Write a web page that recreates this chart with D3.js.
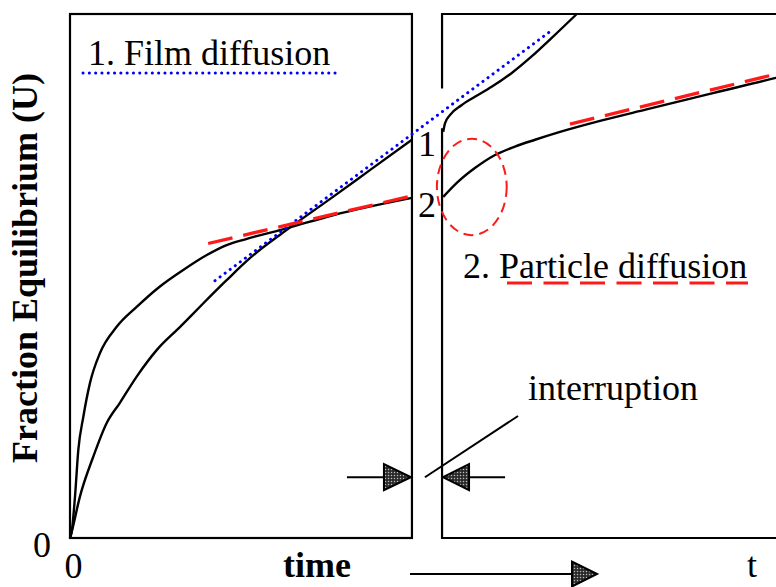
<!DOCTYPE html>
<html>
<head>
<meta charset="utf-8">
<script src="https://cdn.jsdelivr.net/npm/d3@7"></script>
<style>
  body { margin: 0; background: #fff; }
  text { font-family: 'Liberation Serif', 'Times New Roman', serif; }
</style>
</head>
<body>
<div id="chart"></div>
<script>
// [time, U]. time is one continuous axis, the gap 10..10.88 is the interruption
const curve1Before = [[0, 0], [0.05, 0.012], [0.29, 0.079], [0.68, 0.155], [1.07, 0.219], [1.46, 0.258],
  [1.95, 0.308], [2.54, 0.359], [3.22, 0.403], [3.9, 0.448], [4.58, 0.492], [5.26, 0.534],
  [6.34, 0.588], [7.69, 0.651], [8.77, 0.702], [10, 0.76]];
const curve1After = [[10.915, 0.775], [10.965, 0.791], [11.11, 0.807], [11.45, 0.826], [11.84, 0.842],
  [12.33, 0.861], [12.91, 0.887], [13.5, 0.919], [14.08, 0.954], [14.82, 1.0]];
const curve2Before = [[0, 0], [0.05, 0.012], [0.146, 0.079], [0.243, 0.168], [0.389, 0.231], [0.585, 0.296],
  [0.877, 0.353], [1.365, 0.403], [1.95, 0.441], [2.63, 0.48], [3.3, 0.511], [4.0, 0.54],
  [4.58, 0.559], [5.17, 0.571], [6.34, 0.591], [7.69, 0.616], [10, 0.649]];
const curve2After = [[10.915, 0.651], [11.35, 0.68], [11.84, 0.706], [12.43, 0.731], [13.01, 0.747],
  [13.6, 0.76], [14.33, 0.775], [15.5, 0.796], [16.86, 0.818], [18.8, 0.849], [20.64, 0.878], [20.88, 0.882]];

// tangent lines
const filmTangent = [[4.24, 0.491], [14.13, 0.971]];
const particleTangentBefore = [[4.04, 0.562], [10, 0.653]];
const particleTangentAfter = [[14.62, 0.79], [20.88, 0.889]];

const panels = [[0, 10], [10.88, 20.88]];
const interruption = [10, 10.88];
const arrowLevel = 0.116;
const transitionZone = [11.75, 0.67, 1.02, 0.092]; // centre t, centre U, half-width, half-height
const xTicks = [0];
const yTicks = [0];

const width = 776;
const height = 587;

const svg = d3.select('#chart').append('svg')
  .attr('width', width)
  .attr('height', height);

const x = d3.scaleLinear().domain([0, 20.88]).range([70, 784]);
const y = d3.scaleLinear().domain([0, 1]).range([538, 14]);

// stippled fill for the arrow heads
const pat = svg.append('defs').append('pattern')
  .attr('id', 'stip').attr('width', 3).attr('height', 3)
  .attr('patternUnits', 'userSpaceOnUse');
pat.append('rect').attr('width', 3).attr('height', 3).attr('fill', '#2a2a2a');
pat.append('circle').attr('cx', 1.5).attr('cy', 1.5).attr('r', 0.75).attr('fill', '#bbb');

// panel frames
svg.append('rect')
  .attr('x', x(panels[0][0])).attr('y', y(1))
  .attr('width', x(panels[0][1]) - x(panels[0][0]))
  .attr('height', y(0) - y(1))
  .attr('fill', 'none').attr('stroke', '#000').attr('stroke-width', 2.2);

const rx0 = x(panels[1][0]);
const rx1 = x(panels[1][1]);
const frame = svg.append('g').attr('stroke', '#000').attr('stroke-width', 2.2).attr('fill', 'none');
frame.append('path').attr('d', `M${rx1},${y(1)}H${rx0}V${y(0.858)}`);
frame.append('path').attr('d', `M${rx0},${y(0.782)}V${y(0)}H${rx1}V${y(1)}`);

// axes: only the zero labels
const yAxis = d3.axisLeft(y).tickValues(yTicks).tickFormat(d3.format('d'))
  .tickSize(0).tickPadding(19);
const yAxisGroup = svg.append('g')
  .attr('transform', `translate(${x(0)},0)`)
  .call(yAxis);
yAxisGroup.select('.domain').remove();
yAxisGroup.selectAll('text')
  .attr('dy', '0.5em')
  .style('font-size', '36px')
  .style('font-family', "'Liberation Serif', serif")
  .attr('fill', '#000');

const xAxis = d3.axisBottom(x).tickValues(xTicks).tickFormat(d3.format('d'))
  .tickSize(0).tickPadding(14);
const xAxisGroup = svg.append('g')
  .attr('transform', `translate(0,${y(0)})`)
  .call(xAxis);
xAxisGroup.select('.domain').remove();
xAxisGroup.selectAll('text')
  .attr('dx', 3)
  .style('font-size', '36px')
  .style('font-family', "'Liberation Serif', serif")
  .attr('fill', '#000');

// curves
const line = d3.line()
  .x((d) => x(d[0]))
  .y((d) => y(d[1]))
  .curve(d3.curveMonotoneX);

const clip = svg.append('clipPath').attr('id', 'plotclip');
clip.append('rect').attr('x', 0).attr('y', y(1) - 1).attr('width', width).attr('height', y(0) - y(1) + 2);

const curves = svg.append('g').attr('clip-path', 'url(#plotclip)');
[curve1Before, curve1After, curve2Before, curve2After].forEach((c) => {
  curves.append('path')
    .datum(c)
    .attr('d', line)
    .attr('fill', 'none')
    .attr('stroke', '#000')
    .attr('stroke-width', 2.4);
});

// tangents
const straight = d3.line().x((d) => x(d[0])).y((d) => y(d[1]));
svg.append('path')
  .datum(filmTangent)
  .attr('d', straight)
  .attr('fill', 'none')
  .attr('stroke', '#0000ff')
  .attr('stroke-width', 3)
  .attr('stroke-linecap', 'round')
  .attr('stroke-dasharray', '0.1 6.2');

[particleTangentBefore, particleTangentAfter].forEach((c) => {
  svg.append('path')
    .datum(c)
    .attr('d', straight)
    .attr('fill', 'none')
    .attr('stroke', '#ff1a1a')
    .attr('stroke-width', 3.3)
    .attr('stroke-dasharray', '25 11');
});

// dashed ellipse around the restart of curve 2
svg.append('ellipse')
  .attr('cx', x(transitionZone[0]))
  .attr('cy', y(transitionZone[1]))
  .attr('rx', x(transitionZone[2]) - x(0))
  .attr('ry', y(0) - y(transitionZone[3]))
  .attr('fill', 'none')
  .attr('stroke', '#ff1a1a')
  .attr('stroke-width', 2)
  .attr('stroke-dasharray', '10 6');

// labels
const serif = "'Liberation Serif', serif";
svg.append('text')
  .attr('x', 88).attr('y', 65)
  .style('font-size', '36px').style('font-family', serif)
  .text('1. Film diffusion');
svg.append('line')
  .attr('x1', 83).attr('x2', 340).attr('y1', 73).attr('y2', 73)
  .attr('stroke', '#0000ff').attr('stroke-width', 3)
  .attr('stroke-linecap', 'round').attr('stroke-dasharray', '0.1 6.2');

svg.append('text')
  .attr('x', 463).attr('y', 278)
  .style('font-size', '36px').style('font-family', serif)
  .text('2. Particle diffusion');
svg.append('line')
  .attr('x1', 507).attr('x2', 748).attr('y1', 283).attr('y2', 283)
  .attr('stroke', '#ff1a1a').attr('stroke-width', 3)
  .attr('stroke-dasharray', '25 11.5');

svg.append('text')
  .attr('x', x(interruption[0]) + 15).attr('y', y(curve1Before[curve1Before.length - 1][1]) + 16)
  .attr('text-anchor', 'middle')
  .style('font-size', '36px').style('font-family', serif)
  .text('1');
svg.append('text')
  .attr('x', x(interruption[0]) + 15).attr('y', y(curve2Before[curve2Before.length - 1][1]) + 19)
  .attr('text-anchor', 'middle')
  .style('font-size', '36px').style('font-family', serif)
  .text('2');

svg.append('text')
  .attr('transform', 'translate(37,268) rotate(-90)')
  .attr('text-anchor', 'middle')
  .style('font-size', '36px').style('font-family', serif)
  .style('font-weight', 'bold')
  .text('Fraction Equilibrium (U)');

svg.append('text')
  .attr('x', 317).attr('y', 577)
  .attr('text-anchor', 'middle')
  .style('font-size', '36px').style('font-family', serif)
  .style('font-weight', 'bold')
  .text('time');

svg.append('text')
  .attr('x', 752).attr('y', 577)
  .attr('text-anchor', 'middle')
  .style('font-size', '36px').style('font-family', serif)
  .text('t');

svg.append('text')
  .attr('x', 528).attr('y', 400)
  .style('font-size', '36px').style('font-family', serif)
  .text('interruption');

// interruption arrows
const ay = y(arrowLevel);
const ink = svg.append('g').attr('stroke', '#000').attr('stroke-width', 2);
const xa = x(interruption[0]);
const xb = x(interruption[1]);
ink.append('line').attr('x1', xa - 65).attr('x2', xa - 27).attr('y1', ay).attr('y2', ay);
ink.append('path')
  .attr('d', `M${xa - 1},${ay}L${xa - 28},${ay - 13}L${xa - 28},${ay + 13}Z`)
  .attr('fill', 'url(#stip)');
ink.append('line').attr('x1', xb + 26).attr('x2', xb + 63).attr('y1', ay).attr('y2', ay);
ink.append('path')
  .attr('d', `M${xb + 1},${ay}L${xb + 27},${ay - 13}L${xb + 27},${ay + 13}Z`)
  .attr('fill', 'url(#stip)');
ink.append('line')
  .attr('x1', xa + 13).attr('y1', ay)
  .attr('x2', 518).attr('y2', 416);

// time arrow under the axis
ink.append('line').attr('x1', 410).attr('x2', 574).attr('y1', 574).attr('y2', 574);
ink.append('path')
  .attr('d', 'M597,574L572,561.5L572,586.5Z')
  .attr('fill', 'url(#stip)');
</script>
</body>
</html>
